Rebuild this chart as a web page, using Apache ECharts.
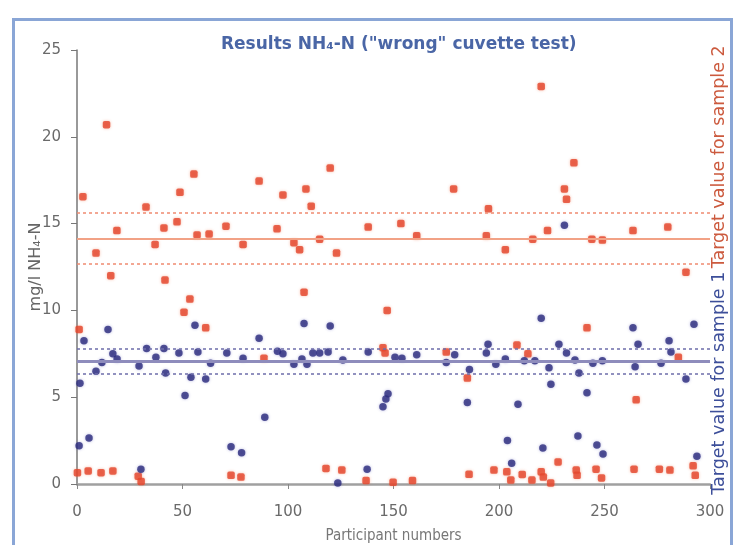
<!DOCTYPE html>
<html><head><meta charset="utf-8">
<script src="https://cdn.jsdelivr.net/npm/echarts@6/dist/echarts.min.js"></script>
<style>html,body{margin:0;padding:0;background:#fff}#c{width:737px;height:545px}</style>
</head><body><div id="c"></div>
<script>
// Sample 1 results (blue) [participant, mg/l]
const sample1 = [[1.4,5.8],[1,2.2],[3.3,8.25],[5.7,2.65],[9,6.5],[11.8,7.0],[14.7,8.9],[17,7.5],[19,7.2],[29.4,6.8],[30.3,0.85],[33,7.8],[37.4,7.3],[41.2,7.8],[42,6.4],[48.3,7.55],[51.2,5.1],[54,6.15],[55.9,9.15],[57.3,7.6],[61,6.05],[63.3,6.95],[71,7.55],[73,2.15],[78,1.8],[78.7,7.25],[86.3,8.4],[89,3.85],[95,7.65],[97.6,7.5],[102.8,6.9],[106.6,7.2],[107.6,9.25],[109,6.9],[111.8,7.55],[115,7.55],[119,7.6],[120,9.1],[123.6,0.06],[126,7.15],[137.5,0.85],[138,7.6],[145,4.45],[146.4,4.9],[147.4,5.2],[150.7,7.3],[154,7.25],[161,7.45],[175,7.0],[179,7.45],[185,4.7],[186,6.6],[194,7.55],[194.8,8.05],[198.5,6.9],[203,7.2],[204,2.5],[206,1.2],[209,4.6],[212,7.1],[217,7.1],[220,9.55],[220.8,2.07],[223.7,6.7],[224.6,5.75],[228.4,8.05],[231,14.9],[232,7.55],[236,7.15],[237.4,2.76],[237.9,6.4],[241.7,5.25],[244.5,6.95],[246.4,2.25],[249,7.1],[249.3,1.73],[263.5,9.0],[264.5,6.75],[265.9,8.05],[276.8,6.95],[280.6,8.25],[281.5,7.6],[288.6,6.05],[292.4,9.2],[293.8,1.6]];
// Sample 2 results (red)
const sample2 = [[1,8.9],[2.8,16.55],[9,13.3],[14,20.7],[16,12.0],[18.9,14.6],[32.7,15.95],[37,13.8],[41.2,14.75],[41.7,11.75],[47.4,15.1],[48.8,16.8],[50.7,9.9],[53.5,10.65],[55.4,17.85],[56.9,14.35],[61,9.0],[62.6,14.4],[70.6,14.85],[78.7,13.8],[86.3,17.45],[88.6,7.25],[94.8,14.7],[97.6,16.65],[102.8,13.9],[105.5,13.5],[107.6,11.05],[108.5,17.0],[111,16.0],[115,14.1],[120,18.2],[123,13.3],[138,14.8],[145,7.85],[146,7.55],[147,10.0],[153.5,15.0],[161,14.3],[175,7.6],[178.5,17.0],[185,6.1],[194,14.3],[195,15.85],[203,13.5],[208.5,8.0],[213.7,7.5],[216,14.1],[220,22.9],[223,14.6],[231,17.0],[232,16.4],[235.5,18.5],[241.7,9.0],[244,14.1],[249,14.05],[263.5,14.6],[265,4.85],[280,14.8],[285,7.3],[288.6,12.2],
 [0.2,0.65],[5.3,0.75],[11.4,0.65],[17,0.75],[29,0.45],[30.4,0.15],[73,0.5],[77.7,0.4],[118,0.9],[125.5,0.8],[137,0.2],[149.8,0.1],[159,0.2],[185.8,0.56],[197.6,0.8],[203.7,0.7],[205.6,0.23],[211,0.55],[215.6,0.23],[220,0.7],[221,0.4],[224.5,0.06],[228,1.27],[236.6,0.8],[237,0.5],[246,0.85],[248.6,0.35],[264,0.85],[276,0.85],[281,0.8],[292,1.05],[293,0.5]];
// Target values: [lower limit, target, upper limit]
const target1 = [6.35, 7.05, 7.8];
const target2 = [12.7, 14.1, 15.6];
const xTicks = [0, 50, 100, 150, 200, 250, 300];
const yTicks = [0, 5, 10, 15, 20, 25];

const chart = echarts.init(document.getElementById('c'));
const font = '"DejaVu Sans",sans-serif';
const cfont = '"DejaVu Sans Condensed","DejaVu Sans",sans-serif';
function lines(vals, solidColor, dashColor, solidW) {
  return {
    silent: true, symbol: 'none', label: {show: false},
    data: [
      {yAxis: vals[0], lineStyle: {color: dashColor, width: 1.5, type: [3, 3]}},
      {yAxis: vals[1], lineStyle: {color: solidColor, width: solidW, type: 'solid'}},
      {yAxis: vals[2], lineStyle: {color: dashColor, width: 1.5, type: [3, 3]}}
    ]
  };
}
chart.setOption({
  animation: false,
  backgroundColor: '#fff',
  textStyle: {fontFamily: font},
  title: {text: 'Results NH\u2084-N ("wrong" cuvette test)', left: 216, top: 31,
    textStyle: {color: '#4a66a6', fontSize: 17, fontWeight: 'bold', fontFamily: font}},
  grid: {left: 77, right: 27, top: 50, bottom: 61, outerBoundsMode: 'none', containLabel: false},
  xAxis: {type: 'value', min: xTicks[0], max: xTicks[xTicks.length-1], interval: 50,
    name: 'Participant numbers', nameLocation: 'middle', nameGap: 45, nameMoveOverlap: false,
    nameTextStyle: {color: '#777', fontSize: 15, fontFamily: cfont},
    axisLine: {show: true, onZero: false, lineStyle: {color: '#a0a0a0', width: 2.5}},
    axisTick: {show: true, inside: false, length: 5, lineStyle: {color: '#888'}},
    axisLabel: {color: '#6a6a6a', fontSize: 15, margin: 21, fontFamily: font},
    splitLine: {show: false}},
  yAxis: {type: 'value', min: yTicks[0], max: yTicks[yTicks.length-1], interval: 5,
    name: 'mg/l NH\u2084-N', nameLocation: 'middle', nameGap: 33, nameRotate: 90, nameMoveOverlap: false,
    nameTextStyle: {color: '#666', fontSize: 16, fontFamily: font},
    axisLine: {show: true, onZero: false, lineStyle: {color: '#777', width: 1.5}},
    axisTick: {show: true, inside: false, length: 6, lineStyle: {color: '#777'}},
    axisLabel: {color: '#6a6a6a', fontSize: 15, margin: 16, fontFamily: font},
    splitLine: {show: false}},
  series: [
    {type: 'scatter', name: 'Sample 1', data: sample1, symbol: 'circle', symbolSize: 7.5,
     itemStyle: {color: '#2b2a7c', shadowBlur: 3, shadowColor: 'rgba(80,80,180,0.5)'},
     markLine: lines(target1, '#8e8cbc', '#6e6eaa', 3), z: 3},
    {type: 'scatter', name: 'Sample 2', data: sample2, symbol: 'roundRect', symbolSize: 7.5,
     itemStyle: {color: '#e4432a', shadowBlur: 3, shadowColor: 'rgba(240,120,80,0.6)'},
     markLine: lines(target2, '#f2a286', '#f08a70', 2), z: 2}
  ],
  graphic: [
    {type: 'rect', left: 11, top: 17, shape: {width: 718, height: 545},
     style: {fill: null, stroke: '#8aa6d6', lineWidth: 3}, silent: true, z: 100},
    {type: 'text', x: 719, y: 270, rotation: Math.PI / 2,
     style: {text: '{a|Target value for sample 1} {b|Target value for sample 2}',
       align: 'center', verticalAlign: 'middle',
       rich: {a: {fill: '#3d4f9a', fontSize: 17.5, fontFamily: font},
              b: {fill: '#cc5a3e', fontSize: 17.5, fontFamily: font}}}, z: 100}
  ]
});
</script></body></html>
